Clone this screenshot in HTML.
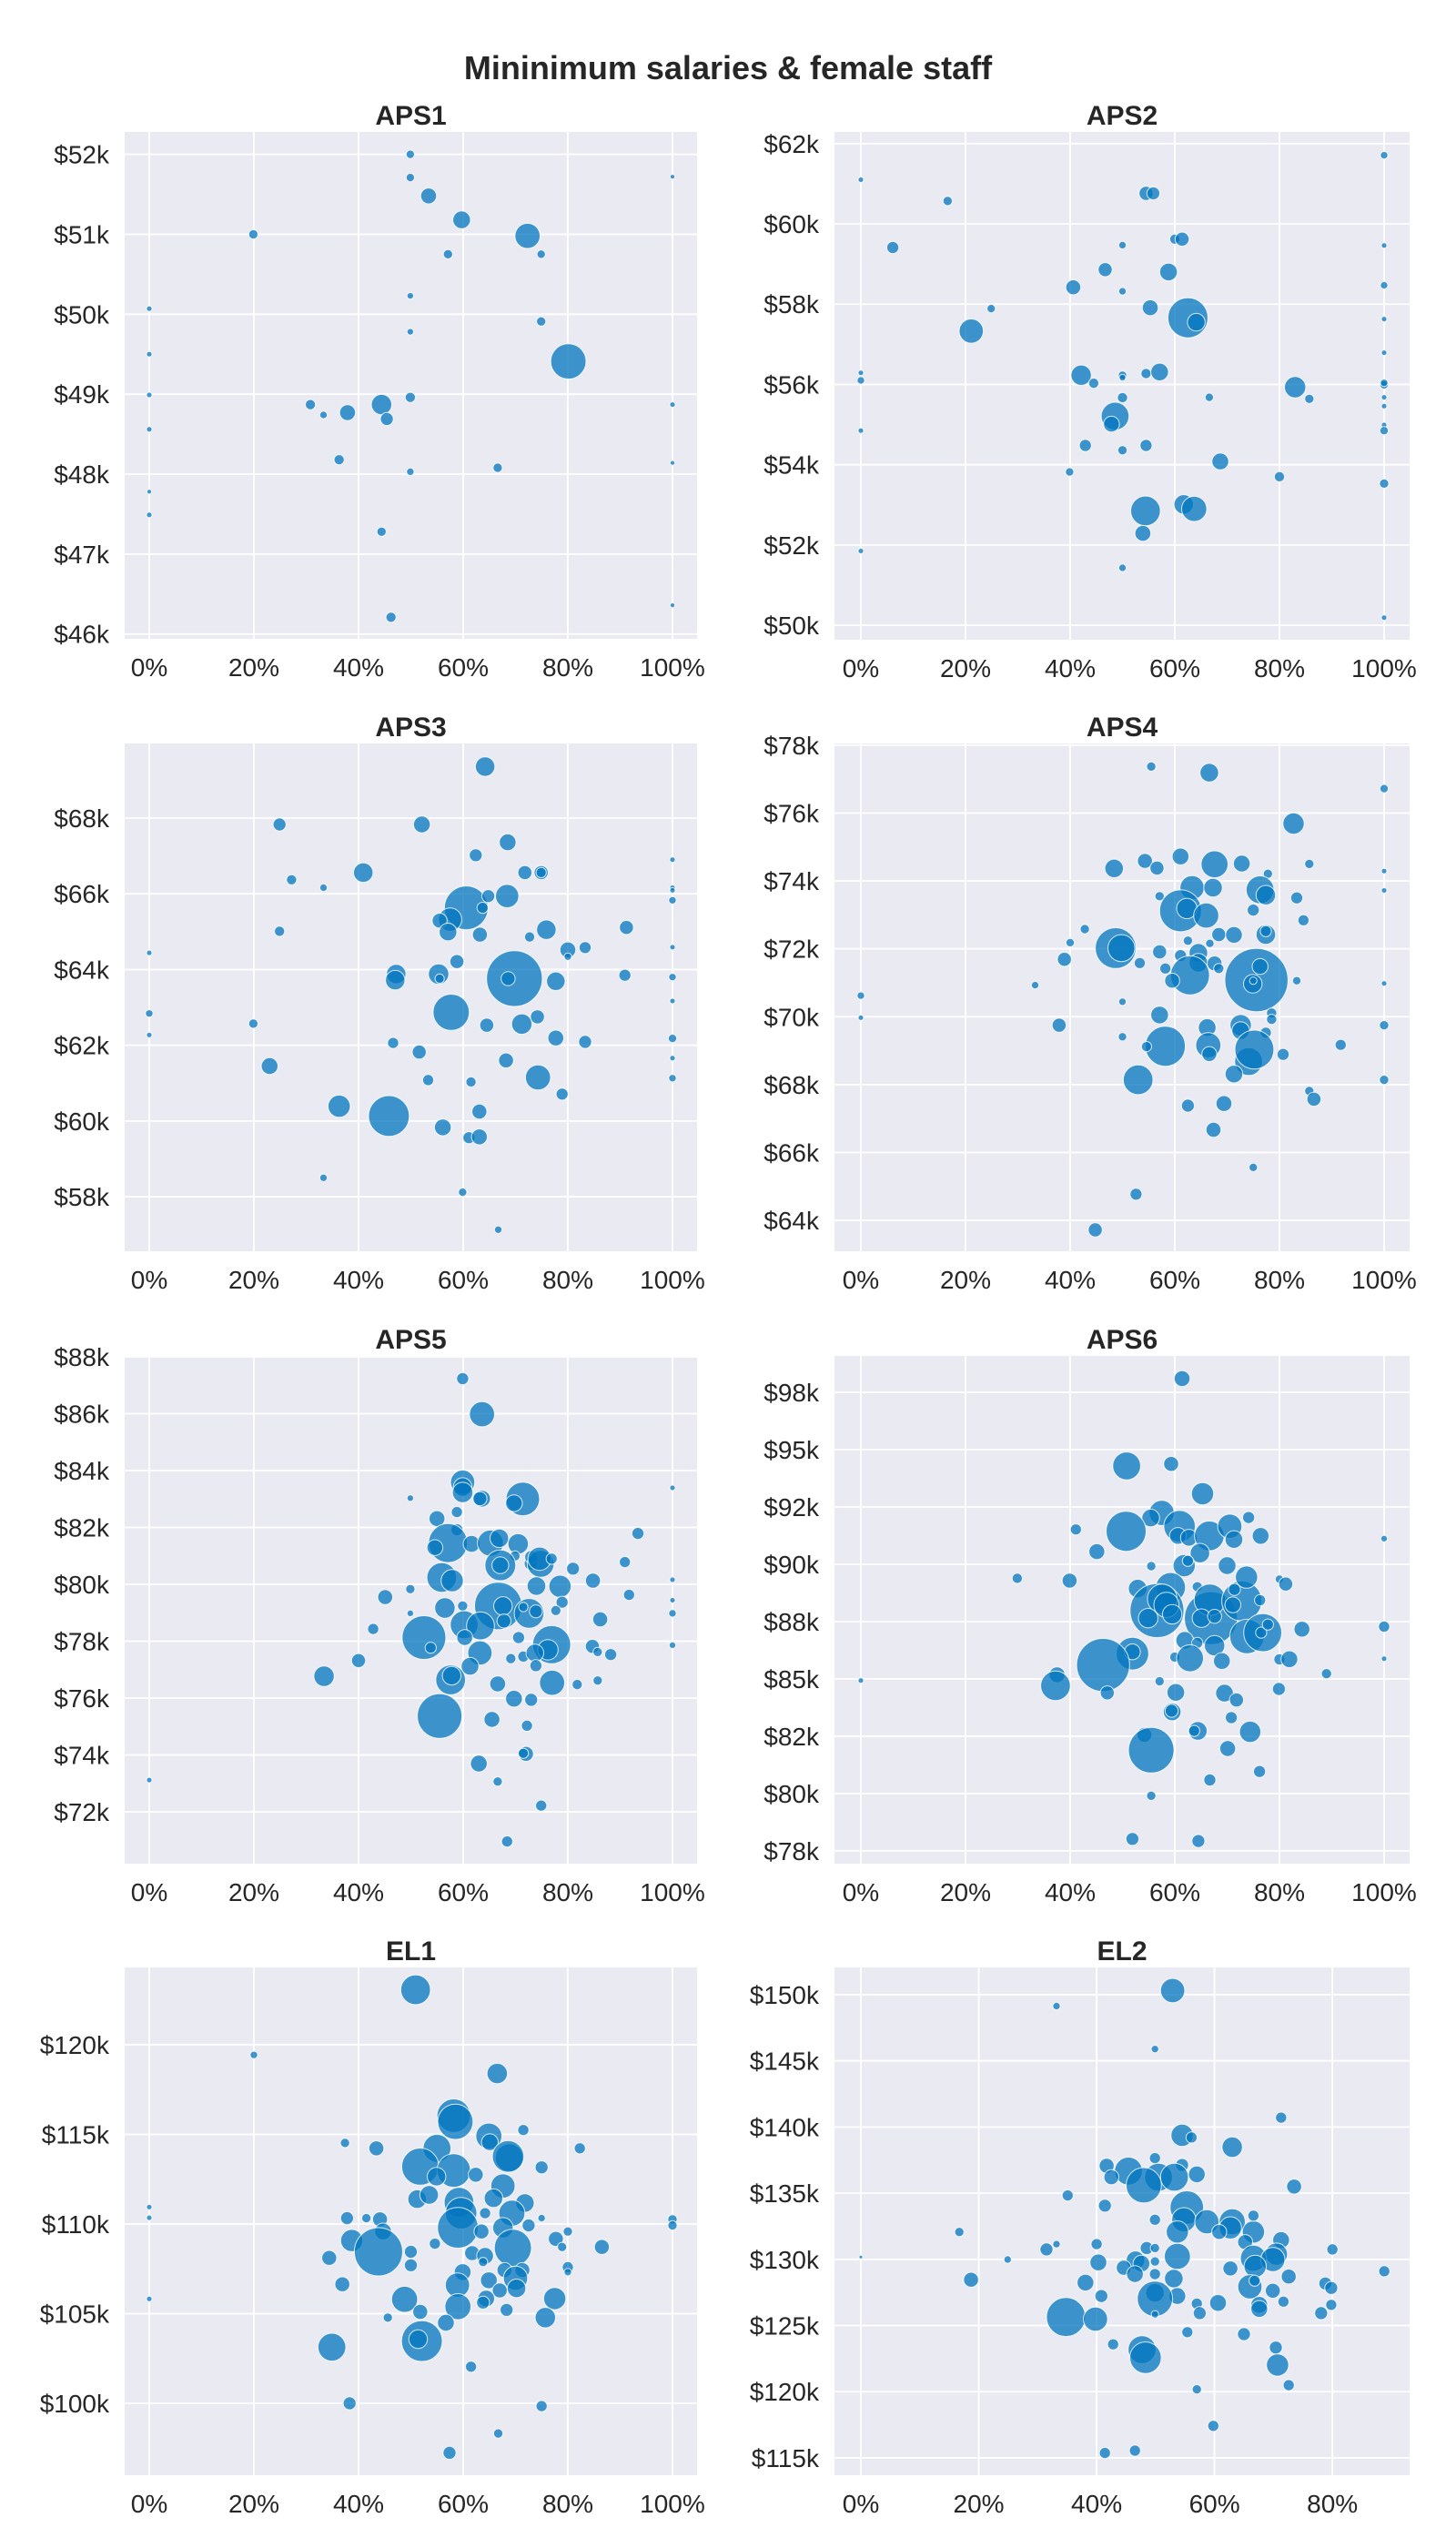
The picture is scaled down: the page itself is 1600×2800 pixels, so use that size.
<!DOCTYPE html>
<html><head><meta charset="utf-8"><title>Mininimum salaries &amp; female staff</title>
<style>
html,body{margin:0;padding:0;background:#fff;}
svg{display:block;font-family:"Liberation Sans",sans-serif;}
</style></head>
<body>
<svg id="chart" width="1600" height="2800" viewBox="0 0 1600 2800" xmlns="http://www.w3.org/2000/svg">
<text x="800" y="87" text-anchor="middle" font-size="36" font-weight="bold" fill="#262626">Mininimum salaries &amp; female staff</text>
</svg>
<script>
// ---- data: female staff share (%), minimum salary ($k), staff count ----
var aps1Pct=[49.9,49.9,53.4,59.7,72.3,19.9,57.1,74.9,0,49.9,74.9,49.9,80.1,0,0,30.8,33.3,37.9,44.4,45.4,49.9,100,0,36.3,49.9,66.6,100,0,0,44.4,46.2,100,100];
var aps1Salary=[52.0,51.71,51.48,51.18,50.98,51.0,50.75,50.75,50.07,50.23,49.91,49.78,49.41,49.5,48.99,48.87,48.74,48.77,48.87,48.69,48.96,48.87,48.56,48.18,48.03,48.08,48.14,47.78,47.49,47.28,46.21,51.72,46.36];
var aps1Staff=[21,21,75,94,190,26,26,21,9,13,26,13,376,9,9,31,17,75,126,51,31,9,9,31,17,26,7,7,9,26,31,7,7];

var aps2Pct=[100,0,16.6,54.5,55.9,6.1,60.0,61.4,50,100,46.7,58.8,40.6,50,100,24.9,55.3,62.5,64.1,21.1,100,100,0,0,42.1,44.5,50,50,54.5,57.1,83.0,85.7,66.6,50,100,100,100,100,100,100,48.6,47.9,0,42.9,54.5,50,68.7,39.9,80,100,54.4,61.7,63.7,53.9,0,50,100];
var aps2Salary=[61.71,61.10,60.57,60.76,60.76,59.41,59.62,59.62,59.47,59.46,58.86,58.80,58.42,58.32,58.47,57.89,57.91,57.66,57.55,57.33,57.63,56.79,56.29,56.10,56.23,56.03,56.23,56.17,56.27,56.31,55.93,55.64,55.68,55.67,55.99,56.04,55.68,55.46,54.99,54.85,55.21,55.01,54.85,54.48,54.48,54.36,54.08,53.82,53.70,53.53,52.85,53.01,52.90,52.29,51.85,51.43,50.19];
var aps2Staff=[17,9,26,59,51,44,31,59,17,9,59,94,67,17,17,21,75,482,94,176,9,9,9,17,126,31,21,13,31,94,138,26,21,31,21,17,9,9,9,21,234,75,9,44,44,26,84,21,31,26,267,115,190,75,9,17,9];

var aps3Pct=[64.2,24.9,52.1,68.5,62.4,40.9,27.2,33.3,71.8,74.9,74.9,100,100,100,100,60.6,63.7,64.8,68.4,57.5,55.5,57.1,63.2,24.9,75.9,72.7,91.2,80.0,83.3,80,100,0,58.8,47.2,47.0,55.3,55.5,69.8,68.6,77.7,90.9,100,100,57.7,0,0,19.9,64.5,71.2,74.2,77.7,83.3,100,46.6,51.6,68.2,100,23.0,74.3,53.3,61.5,100,78.9,36.3,45.8,63.1,56.1,61.1,63.1,33.3,59.9,66.7];
var aps3Salary=[69.36,67.83,67.83,67.36,67.02,66.56,66.37,66.16,66.56,66.56,66.56,66.90,66.16,66.09,65.83,65.63,65.63,65.94,65.94,65.32,65.29,64.99,64.92,65.01,65.05,64.86,65.11,64.52,64.58,64.34,64.59,64.44,64.21,63.88,63.72,63.88,63.76,63.76,63.76,63.69,63.85,63.80,63.17,62.87,62.84,62.27,62.57,62.53,62.56,62.75,62.19,62.09,62.18,62.06,61.82,61.60,61.66,61.45,61.15,61.08,61.03,61.13,60.71,60.39,60.13,60.25,59.83,59.56,59.58,58.50,58.12,57.13];
var aps3Staff=[115,51,84,84,51,115,31,17,59,59,31,9,9,9,17,575,37,51,163,163,67,94,67,31,115,31,59,75,44,17,9,9,59,115,115,126,26,938,59,104,44,17,9,396,17,9,26,59,126,59,75,51,21,37,59,67,9,84,190,37,31,17,44,150,504,67,84,44,75,17,21,17];

var aps4Pct=[55.5,66.6,100,82.7,54.3,61.1,56.6,48.4,67.6,72.8,77.8,85.7,100,100,63.3,67.3,57.1,61.1,62.3,66.0,76.3,77.4,83.3,75.0,84.6,42.8,40.0,48.7,49.8,68.4,71.3,77.4,77.4,62.5,66.7,57.1,61.1,64.5,64.5,38.9,53.3,58.2,62.9,59.5,67.6,68.4,75.6,76.3,74.9,75.0,83.3,100,33.3,0,0,50.0,57.1,78.5,78.5,37.9,66.2,72.6,72.6,77.4,100,50.0,58.2,54.6,66.4,66.6,74.1,75.2,80.7,91.7,71.3,100,53.0,85.7,86.6,62.5,69.4,67.4,75.0,52.6,44.8];
var aps4Salary=[77.37,77.19,76.72,75.69,74.59,74.72,74.38,74.37,74.49,74.51,74.21,74.50,74.29,73.72,73.80,73.80,73.55,73.12,73.19,72.98,73.74,73.58,73.50,73.14,72.84,72.58,72.18,72.02,72.02,72.42,72.41,72.42,72.52,72.24,72.16,71.91,71.80,71.88,71.59,71.69,71.58,71.42,71.22,71.06,71.57,71.42,71.08,71.48,70.97,71.06,71.06,70.98,70.93,70.62,69.97,70.44,70.05,70.11,69.92,69.75,69.68,69.75,69.59,69.53,69.75,69.41,69.13,69.12,69.16,68.90,68.68,69.03,68.89,69.17,68.31,68.14,68.14,67.81,67.57,67.38,67.44,66.67,65.56,64.77,63.72];
var aps4Staff=[26,104,21,138,67,84,59,104,219,84,26,26,9,9,176,104,26,527,126,190,234,115,44,44,37,26,21,504,219,59,84,115,37,26,21,59,44,104,104,59,37,37,459,67,67,31,1204,75,104,17,21,9,17,17,9,17,94,31,31,59,94,138,94,37,26,21,482,31,190,67,234,459,44,37,94,26,267,26,59,51,75,67,21,44,59];

var aps5Pct=[59.9,63.6,100,59.9,59.9,59.9,49.9,63.6,63.2,71.4,69.7,58.8,55.0,58.8,57.1,54.6,61.6,65.2,66.9,70.5,93.4,69.9,72.9,73.0,74.8,74.6,76.9,67.1,67.1,81.0,90.9,100,84.8,55.9,57.9,78.5,74.0,49.9,45.1,91.7,100,66.7,67.6,56.5,59.9,72.6,71.5,73.9,78.9,77.7,49.9,100,67.8,86.2,60.2,63.3,52.5,42.8,60.3,70.6,76.9,76.2,84.7,85.7,88.2,100,53.8,63.2,69.1,71.5,73.7,73.9,40.0,61.3,57.6,57.8,33.4,66.6,77.0,81.8,85.7,69.7,73.0,55.5,65.5,72.2,72.0,71.5,63.0,0,66.6,74.9,68.4];
var aps5Salary=[87.23,85.98,83.39,83.59,83.42,83.23,83.03,83.01,83.01,83.00,82.85,82.54,82.31,81.92,81.45,81.29,81.42,81.45,81.62,81.42,81.79,81.0,80.73,80.96,80.72,80.90,80.90,80.67,80.67,80.55,80.78,80.16,80.13,80.24,80.13,79.93,79.94,79.83,79.55,79.63,79.44,79.24,79.24,79.17,79.24,78.98,79.2,79.05,79.37,79.08,78.98,78.98,78.71,78.77,78.58,78.54,78.13,78.43,78.13,78.13,77.88,77.70,77.82,77.62,77.53,77.86,77.77,77.59,77.39,77.46,77.59,77.14,77.32,77.12,76.64,76.79,76.77,76.50,76.54,76.48,76.62,75.98,75.94,75.37,75.25,75.03,74.04,74.06,73.70,73.12,73.07,72.22,70.96];
var aps5Staff=[44,190,9,176,104,126,13,84,59,338,84,37,75,44,459,75,84,204,104,126,44,31,51,51,219,163,37,284,84,51,37,9,67,267,150,150,104,26,67,37,9,677,104,126,31,267,26,51,44,31,13,17,59,67,234,234,575,37,75,44,438,126,59,26,44,13,37,176,31,37,94,44,59,94,267,104,126,75,190,31,26,84,51,600,75,37,67,31,84,9,26,37,37];

var aps6Pct=[61.4,50.8,59.3,65.3,57.5,55.4,50.7,41.1,60.9,60.6,62.7,66.6,70.5,71.3,74.1,76.4,100,64.8,45.1,61.8,62.5,55.5,70.0,29.9,39.9,52.9,59.2,56.6,57.6,58.4,59.5,54.9,64.3,66.9,66.7,65.1,67.6,72.8,73.7,71.4,71.1,76.3,80.0,81.2,73.8,76.8,76.5,77.8,84.3,100,61.9,64.3,67.6,51.9,51.9,60.0,62.9,69.0,80.0,81.9,100,89.0,46.3,37.5,37.2,0,57.1,47.1,60.2,69.5,71.8,79.9,59.5,59.4,70.8,64.4,63.7,74.4,54.2,55.5,70.1,76.2,66.7,55.5,51.9,64.5];
var aps6Salary=[98.10,94.29,94.38,93.08,92.24,92.02,91.44,91.52,91.66,91.24,91.16,91.24,91.66,91.08,92.04,91.24,91.12,90.49,90.55,89.94,90.15,89.92,89.94,89.39,89.29,88.94,88.99,87.98,88.49,88.23,87.82,87.65,89.02,87.65,88.45,87.65,87.73,88.40,89.44,88.90,88.23,88.43,89.35,89.14,86.85,87.02,87.02,87.37,87.17,87.28,86.68,86.57,86.45,86.10,86.18,85.95,85.90,85.78,85.85,85.86,85.88,85.23,85.61,85.18,84.70,84.93,84.90,84.39,84.41,84.38,84.08,84.56,83.56,83.61,83.31,82.73,82.73,82.69,82.56,81.89,81.96,80.96,80.59,79.90,78.02,77.93];
var aps6Staff=[75,234,67,150,190,94,482,37,301,84,84,267,176,94,44,84,13,115,75,150,37,26,94,31,67,104,267,876,267,190,115,115,31,846,301,104,59,482,150,44,75,37,21,59,357,438,37,37,75,37,94,37,126,319,75,31,219,84,37,84,9,31,846,75,267,9,26,59,94,94,59,51,94,51,44,104,37,138,67,625,75,44,44,26,51,51];

var el1Pct=[50.9,20.0,66.5,58.2,58.5,71.5,64.9,65.1,37.4,43.4,55.0,82.3,68.8,68.6,75.0,51.8,58.2,62.4,54.9,67.6,51.2,53.5,65.8,71.8,59.2,59.6,69.3,64.2,37.8,41.5,44.1,75.0,100,100,0,0,59.0,72.5,67.6,63.5,44.7,80.0,77.7,38.7,78.9,86.5,69.5,61.7,64.2,50.0,43.8,34.4,54.6,63.8,50.0,80.0,80.0,67.9,71.3,59.9,70.0,64.9,36.9,58.9,70.2,67.0,64.4,48.8,77.5,0,63.8,59.0,68.3,51.8,75.7,45.6,56.7,52.1,51.4,34.9,61.5,38.3,75.0,66.7,57.4];
var el1Salary=[123.06,119.43,118.39,116.04,115.70,115.24,114.90,114.56,114.52,114.22,114.22,114.22,113.70,113.77,113.16,113.20,112.98,112.75,112.64,112.12,111.39,111.62,111.44,111.17,111.21,110.60,110.60,110.60,110.33,110.33,110.26,110.33,110.26,109.92,110.94,110.35,109.79,109.92,109.79,109.58,109.58,109.58,109.17,109.08,108.72,108.72,108.67,108.38,108.22,108.45,108.45,108.11,108.90,107.88,107.70,107.59,107.32,107.43,107.43,107.32,106.98,106.86,106.64,106.59,106.41,106.30,105.84,105.80,105.84,105.82,105.62,105.39,105.21,105.10,104.78,104.78,104.49,103.47,103.58,103.13,102.04,100.00,99.84,98.32,97.24];
var el1Staff=[266,17,126,337,376,37,204,84,26,67,234,37,234,301,51,416,337,67,104,176,104,104,104,104,266,301,204,37,51,26,67,17,26,26,9,9,504,51,126,67,84,26,67,150,26,67,416,67,84,51,703,67,37,26,51,37,17,67,67,84,176,84,67,176,104,67,84,204,150,9,51,204,51,67,126,26,84,504,104,234,37,51,37,26,51];

var el2Pct=[52.9,33.2,49.9,71.3,54.5,56.1,63.0,49.9,41.7,54.5,45.4,42.5,50.5,53.2,57.0,48.0,73.5,35.1,41.4,55.3,54.8,49.9,58.7,53.7,63.0,62.7,60.8,66.6,66.6,16.7,71.3,65.2,70.5,40.0,33.2,31.5,48.5,49.9,80.0,53.7,66.6,69.9,24.9,0,40.3,46.6,47.6,49.9,44.6,66.9,62.7,72.6,88.8,46.5,49.9,53.1,18.7,38.1,78.8,66.0,66.8,79.8,69.9,49.9,40.8,53.7,49.9,60.6,57.0,71.7,67.6,67.6,79.8,57.5,78.1,34.8,39.8,49.9,55.4,65.0,42.8,70.4,47.7,48.3,70.7,72.6,57.0,59.8,41.4,46.5];
var el2Salary=[150.31,149.14,145.89,140.71,139.37,139.21,138.48,137.65,137.07,137.13,136.67,136.21,136.21,136.21,136.42,135.60,135.50,134.83,134.06,133.91,132.99,132.99,132.84,132.07,132.84,132.38,132.07,132.07,133.30,132.07,131.46,131.31,130.39,131.15,131.15,130.75,130.85,130.85,130.75,130.23,130.08,129.99,129.99,130.17,129.77,129.93,129.68,129.84,129.37,129.47,129.31,128.70,129.10,128.89,128.89,128.55,128.46,128.24,128.18,127.93,128.39,127.84,127.63,127.47,127.23,127.23,127.02,126.71,126.65,126.80,126.56,126.25,126.56,125.94,125.94,125.64,125.48,125.85,124.50,124.35,123.58,123.34,123.18,122.57,122.02,120.49,120.18,117.42,115.37,115.55];
var el2Staff=[176,17,17,37,150,37,126,37,67,51,234,67,234,234,84,376,67,37,51,337,176,37,176,150,204,150,67,150,37,26,84,67,150,37,17,51,51,26,37,204,204,176,17,4,84,104,84,26,67,150,67,67,37,84,37,104,67,84,51,176,37,51,67,104,51,84,376,84,37,37,84,84,37,51,51,459,176,17,37,51,37,51,234,301,150,37,26,37,37,37];

// ---- axis tick arrays ----
var xTicks=[0,20,40,60,80,100];
var xTicksEl2=[0,20,40,60,80];
var aps1Ticks=[46,47,48,49,50,51,52];
var aps2Ticks=[50,52,54,56,58,60,62];
var aps3Ticks=[58,60,62,64,66,68];
var aps4Ticks=[64,66,68,70,72,74,76,78];
var aps5Ticks=[72,74,76,78,80,82,84,86,88];
var aps6Ticks=[77.5,80,82.5,85,87.5,90,92.5,95,97.5];
var aps6TickLabels=["$78k","$80k","$82k","$85k","$88k","$90k","$92k","$95k","$98k"];
var el1Ticks=[100,105,110,115,120];
var el2Ticks=[115,120,125,130,135,140,145,150];

// ---- layout (not data) ----
var panels=[
 {name:"APS1",box:[137,145,766,702],xd:[-4.7,104.7],yd:[45.94,52.28],xt:xTicks,yt:aps1Ticks,px:aps1Pct,py:aps1Salary,ps:aps1Staff},
 {name:"APS2",box:[917,145,1549,703],xd:[-5.04,104.87],yd:[49.64,62.29],xt:xTicks,yt:aps2Ticks,px:aps2Pct,py:aps2Salary,ps:aps2Staff},
 {name:"APS3",box:[137,817,766,1375],xd:[-4.7,104.7],yd:[56.56,69.97],xt:xTicks,yt:aps3Ticks,px:aps3Pct,py:aps3Salary,ps:aps3Staff},
 {name:"APS4",box:[917,817,1549,1375],xd:[-5.04,104.87],yd:[63.09,78.05],xt:xTicks,yt:aps4Ticks,px:aps4Pct,py:aps4Salary,ps:aps4Staff},
 {name:"APS5",box:[137,1490,766,2048],xd:[-4.7,104.7],yd:[70.18,88.03],xt:xTicks,yt:aps5Ticks,px:aps5Pct,py:aps5Salary,ps:aps5Staff},
 {name:"APS6",box:[917,1490,1549,2048],xd:[-5.04,104.87],yd:[76.94,99.09],xt:xTicks,yt:aps6Ticks,ytl:aps6TickLabels,px:aps6Pct,py:aps6Salary,ps:aps6Staff},
 {name:"EL1",box:[137,2162,766,2720],xd:[-4.7,104.7],yd:[95.99,124.31],xt:xTicks,yt:el1Ticks,px:el1Pct,py:el1Salary,ps:el1Staff},
 {name:"EL2",box:[917,2162,1549,2720],xd:[-4.48,93.1],yd:[113.69,152.06],xt:xTicksEl2,yt:el2Ticks,px:el2Pct,py:el2Salary,ps:el2Staff}
];

var NS="http://www.w3.org/2000/svg";
var svg=document.getElementById("chart");
function mk(tag,attrs,parent){var e=document.createElementNS(NS,tag);for(var k in attrs)e.setAttribute(k,attrs[k]);(parent||svg).appendChild(e);return e;}

panels.forEach(function(p){
  var x0=p.box[0],y0=p.box[1],x1=p.box[2],y1=p.box[3];
  var slug=p.name.toLowerCase();
  function sx(v){return x0+(v-p.xd[0])/(p.xd[1]-p.xd[0])*(x1-x0);}
  function sy(v){return y1-(v-p.yd[0])/(p.yd[1]-p.yd[0])*(y1-y0);}
  var g=mk("g",{});
  
  
  var bg=mk("rect",{x:x0,y:y0,width:x1-x0,height:y1-y0,fill:"#eaeaf2"},g);
  
  
  var t=mk("text",{x:(x0+x1)/2,y:y0-8,"text-anchor":"middle","font-size":"30","font-weight":"bold",fill:"#262626"},g);
  t.textContent=p.name;
  
  
  p.xt.forEach(function(v){
    var X=sx(v);
    var l=mk("line",{x1:X,x2:X,y1:y0,y2:y1,stroke:"#fff","stroke-width":"1.8"},g);
    
    
    var tx=mk("text",{x:X,y:y1+41,"text-anchor":"middle","font-size":"28",fill:"#262626"},g);
    tx.textContent=v+"%";
    
    
  });
  p.yt.forEach(function(v,i){
    var Y=sy(v);
    var l=mk("line",{x1:x0,x2:x1,y1:Y,y2:Y,stroke:"#fff","stroke-width":"1.8"},g);
    
    
    var ty=mk("text",{x:x0-17,y:Y+10,"text-anchor":"end","font-size":"28",fill:"#262626"},g);
    ty.textContent=p.ytl?p.ytl[i]:("$"+v+"k");
    
    
  });
  var pts=mk("g",{},g);
  
  
  for(var i=0;i<p.px.length;i++){
    var c=mk("circle",{cx:sx(p.px[i]).toFixed(1),cy:sy(p.py[i]).toFixed(1),r:Math.sqrt(p.ps[i]).toFixed(1),fill:"rgb(2,117,191)","fill-opacity":"0.75",stroke:"#fff","stroke-opacity":"0.8","stroke-width":"1"},pts);
    
    
  }
});
</script>
</body></html>
